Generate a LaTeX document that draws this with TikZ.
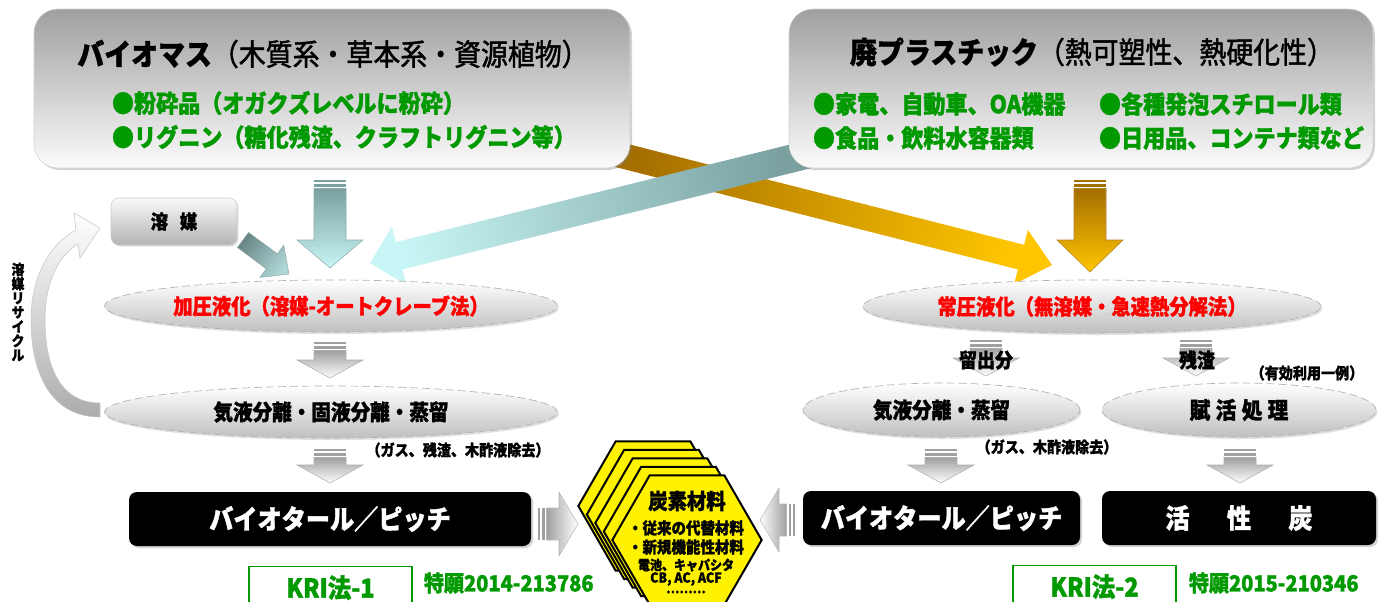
\documentclass[tikz,border=0pt]{standalone}
\usepackage{fontspec}
\setmainfont{Noto Sans CJK JP}[Scale=1.15, FakeStretch=0.9, BoldFeatures={FakeBold=1.3}]
\newfontfamily\jpmed[Scale=1.15, FakeStretch=0.9, FakeBold=1.5]{Noto Sans CJK JP}
\usetikzlibrary{shapes.geometric,shadows,calc}
\definecolor{kgreen}{RGB}{0,153,0}
\definecolor{bluetop}{RGB}{122,160,160}
\definecolor{bluebot}{RGB}{200,245,245}
\definecolor{goldtop}{RGB}{165,110,0}
\definecolor{goldbot}{RGB}{255,198,0}
\definecolor{solvtop}{RGB}{105,135,135}
\definecolor{solvbot}{RGB}{175,215,215}
\definecolor{arrgray}{RGB}{160,160,160}
\newcommand\setfs[1]{\fontsize{#1}{#1}\selectfont}
% vertical striped block arrow: cx, ytop, yhead, ytip, top colour, bottom colour
\newcommand\varrow[6]{%
  \fill[#5] ({#1-16},#2) rectangle ({#1+16},{#2+2});
  \fill[#5] ({#1-16},{#2+4}) rectangle ({#1+16},{#2+6.5});
  \path[draw=#5!85!white, line width=0.4pt, top color=#5, bottom color=#6]
    ({#1-16},{#2+8.5}) -- ({#1+16},{#2+8.5}) -- ({#1+16},#3) -- ({#1+33},#3)
    -- (#1,#4) -- ({#1-33},#3) -- ({#1-16},#3) -- cycle;}
% diagonal block arrow: start, tip, shaft half width, head half width, head length, style
\newcommand\diagarrow[6]{%
  \coordinate (hb) at ($(#2)!#5!(#1)$);
  \path[#6] ($(#1)!#3!90:(#2)$) -- ($(hb)!#3!90:(#2)$) -- ($(hb)!#4!90:(#2)$)
    -- (#2) -- ($(hb)!#4!-90:(#2)$) -- ($(hb)!#3!-90:(#2)$) -- ($(#1)!#3!-90:(#2)$) -- cycle;}
\tikzset{
  txt/.style={inner sep=0pt, outer sep=0pt},
  topbox/.style={draw=gray!35, rounded corners=18pt, top color=gray!75, bottom color=white!97!gray,
    drop shadow={shadow xshift=1.5pt, shadow yshift=-1.5pt, opacity=0.35},
    minimum height=119.25pt, inner sep=0pt},
  solvbox/.style={draw=gray!40, rounded corners=6pt, top color=white!96!gray, bottom color=gray!60,
    drop shadow={shadow xshift=1pt, shadow yshift=-1pt, opacity=0.3},
    minimum width=94.5pt, minimum height=35.25pt, inner sep=0pt, font=\setfs{12.5pt}\bfseries},
  ell/.style={ellipse, draw=gray!60, dash pattern=on 6pt off 3pt, line width=0.5pt,
    top color=white, bottom color=gray!50, inner sep=0pt,
    drop shadow={shadow xshift=1pt, shadow yshift=-1.5pt, opacity=0.25}},
  blk/.style={fill=black, rounded corners=6pt, text=white, inner sep=0pt, minimum height=40.5pt,
    font=\setfs{17.5pt}\bfseries, drop shadow={shadow xshift=1.5pt, shadow yshift=-1.5pt, opacity=0.35}},
  kri/.style={draw=kgreen, line width=1.1pt, fill=white, text=kgreen, inner sep=0pt, anchor=north,
    minimum height=31.5pt, minimum width=122.25pt, font=\setfs{17pt}\bfseries},
  pat/.style={txt, anchor=west, text=kgreen, font=\setfs{14.5pt}\bfseries},
  hexa/.style={regular polygon, regular polygon sides=6, minimum size=112pt, inner sep=0pt,
    fill=yellow, draw=black, line width=1.5pt},
  grn/.style={txt, anchor=west, text=kgreen, font=\setfs{16pt}\bfseries},
  note/.style={txt, font=\setfs{10.2pt}\bfseries},
}
\begin{document}
\begin{tikzpicture}[x=0.75pt,y=-0.75pt]
\useasboundingbox (0,0) rectangle (1378,601);
\fill[white] (0,0) rectangle (1378,601);

% big diagonal arrows (behind the top boxes)
\coordinate (gS) at (600,150);
\coordinate (gT) at (1052,265);
\diagarrow{gS}{gT}{9.5pt}{21pt}{24pt}{top color=goldbot, bottom color=goldtop, shading angle=-104.3}
\coordinate (bS) at (818,152);
\coordinate (bT) at (370,263);
\diagarrow{bS}{bT}{10.5pt}{22.5pt}{22.5pt}{top color=bluebot, bottom color=bluetop, shading angle=103.9}

% top boxes
\node[topbox, minimum width=447pt] (bio) at (332,88.5) {};
\node[txt, font=\setfs{19.5pt}] (biot) at (333,54) {{\bfseries バイオマス}{\jpmed（木質系・草本系・資源植物）}};
\node[grn] (b1) at (112,103) {●粉砕品（オガクズレベルに粉砕）};
\node[grn] (b2) at (112,137) {●リグニン（糖化残渣、クラフトリグニン等）};

\node[topbox, minimum width=438pt] (pla) at (1081,88.5) {};
\node[txt, font=\setfs{19.5pt}] (plat) at (1092,52) {{\bfseries 廃プラスチック}{\jpmed（熱可塑性、熱硬化性）}};
\node[grn] (p1) at (813,104) {●家電、自動車、OA機器};
\node[grn] (p2) at (1099,104) {●各種発泡スチロール類};
\node[grn] (p3) at (813,138) {●食品・飲料水容器類};
\node[grn] (p4) at (1099,138) {●日用品、コンテナ類など};

% vertical arrows from the boxes
\varrow{330}{180}{240}{268}{bluetop}{bluebot}
\varrow{1090}{180}{240}{272}{goldtop}{goldbot}

% solvent
\node[solvbox] (solv) at (174,221.5) {溶\hspace{9pt}媒};
\coordinate (sS) at (243,240);
\coordinate (sT) at (289,274);
\diagarrow{sS}{sT}{7pt}{15pt}{16pt}{draw=solvtop!80!white, line width=0.3pt, top color=solvbot, bottom color=solvtop, shading angle=-126.3}

% recycle arrow
\path[draw=gray!45, line width=0.4pt, top color=white, bottom color=gray!65]
  (100,403) .. controls (60,403) and (45,366) .. (45,320)
  .. controls (45,283) and (58,256) .. (78,244) -- (80,258) -- (100,228) -- (74,213) -- (76,230)
  .. controls (50,244) and (31,276) .. (31,320)
  .. controls (31,372) and (50,417) .. (100,417) -- cycle;
\node[txt, align=center, font=\fontsize{9.2pt}{10.7pt}\selectfont\bfseries] (rec) at (18,312) {溶\\媒\\リ\\サ\\イ\\ク\\ル};

% left process column
\node[ell, minimum width=339.75pt, minimum height=39pt, font=\setfs{14pt}\bfseries, text=red] (pl) at (331,306) {加圧液化（溶媒-オートクレーブ法）};
\varrow{330}{342}{360}{378}{arrgray}{white}
\node[ell, minimum width=339.75pt, minimum height=39pt, font=\setfs{14.2pt}\bfseries] (sep1) at (331,412) {気液分離・固液分離・蒸留};
\node[note] (gas1) at (458,450) {（ガス、残渣、木酢液除去）};
\varrow{330}{449}{465}{483}{arrgray}{white}
\node[blk, minimum width=301.5pt] (tar1) at (330,519) {バイオタール／ピッチ};
\node[kri] (kri1) at (330.5,566) {KRI法-1};
\node[pat] (pat1) at (424,583) {特願2014-213786};

% right process column
\node[ell, minimum width=343.5pt, minimum height=39.75pt, font=\setfs{14pt}\bfseries, text=red] (ap) at (1092,306.5) {常圧液化（無溶媒・急速熱分解法）};
\varrow{986}{340}{358}{376}{arrgray}{white}
\varrow{1196}{340}{358}{376}{arrgray}{white}
\node[txt, font=\setfs{13pt}\bfseries] (dist) at (986,360) {留出分};
\node[txt, font=\setfs{13pt}\bfseries] (res) at (1197,360) {残渣};
\node[note] (ex) at (1307,373) {（有効利用一例）};
\node[ell, minimum width=207.75pt, minimum height=40.5pt, font=\setfs{14.2pt}\bfseries] (sep2) at (941.5,410) {気液分離・蒸留};
\node[ell, minimum width=205.5pt, minimum height=40.5pt, font=\setfs{15pt}\bfseries] (actv) at (1239,410) {賦\hspace{4pt}活\hspace{4pt}処\hspace{4pt}理};
\node[note] (gas2) at (1047,447) {（ガス、木酢液除去）};
\varrow{941}{449}{465}{483}{arrgray}{white}
\varrow{1240}{449}{465}{483}{arrgray}{white}
\node[blk, minimum width=207.75pt] (tar2) at (941.5,518) {バイオタール／ピッチ};
\node[blk, minimum width=205.5pt] (acc) at (1239,518) {活\hspace{28pt}性\hspace{28pt}炭};
\node[kri] (kri2) at (1094.5,565) {KRI法-2};
\node[pat] (pat2) at (1189,583) {特願2015-210346};

% horizontal arrows to the carbon material
\fill[arrgray] (538,508) rectangle (540,540);
\fill[arrgray] (542,508) rectangle (544.5,540);
\path[draw=gray!55, line width=0.4pt, left color=arrgray, right color=white]
  (546.5,508) -- (559,508) -- (559,492) -- (578,524) -- (559,556) -- (559,540) -- (546.5,540) -- cycle;
\fill[arrgray] (795,504) rectangle (793,536);
\fill[arrgray] (791,504) rectangle (788.5,536);
\path[draw=gray!55, line width=0.4pt, right color=arrgray, left color=white]
  (786.5,504) -- (779,504) -- (779,488) -- (760,520) -- (779,552) -- (779,536) -- (786.5,536) -- cycle;

% carbon material stack
\foreach \k in {4,3,2,1,0} \node[hexa] (hex\k) at ({687-8.5*\k},{540-8.5*\k}) {};
\node[txt, font=\setfs{14pt}\bfseries] (c0) at (687,501) {炭素材料};
\node[txt, font=\setfs{10.5pt}\bfseries] (c1) at (686,528) {・従来の代替材料};
\node[txt, font=\setfs{10.5pt}\bfseries] (c2) at (686,547) {・新規機能性材料};
\node[txt, font=\setfs{8.7pt}\bfseries] (c3) at (686,565) {電池、キャパシタ};
\node[txt, font=\setfs{9pt}\bfseries] (c4) at (686,579) {CB, AC, ACF};
\node[txt, font=\setfs{8.5pt}\bfseries] (c5) at (686,592) {………};
\end{tikzpicture}
\end{document}
